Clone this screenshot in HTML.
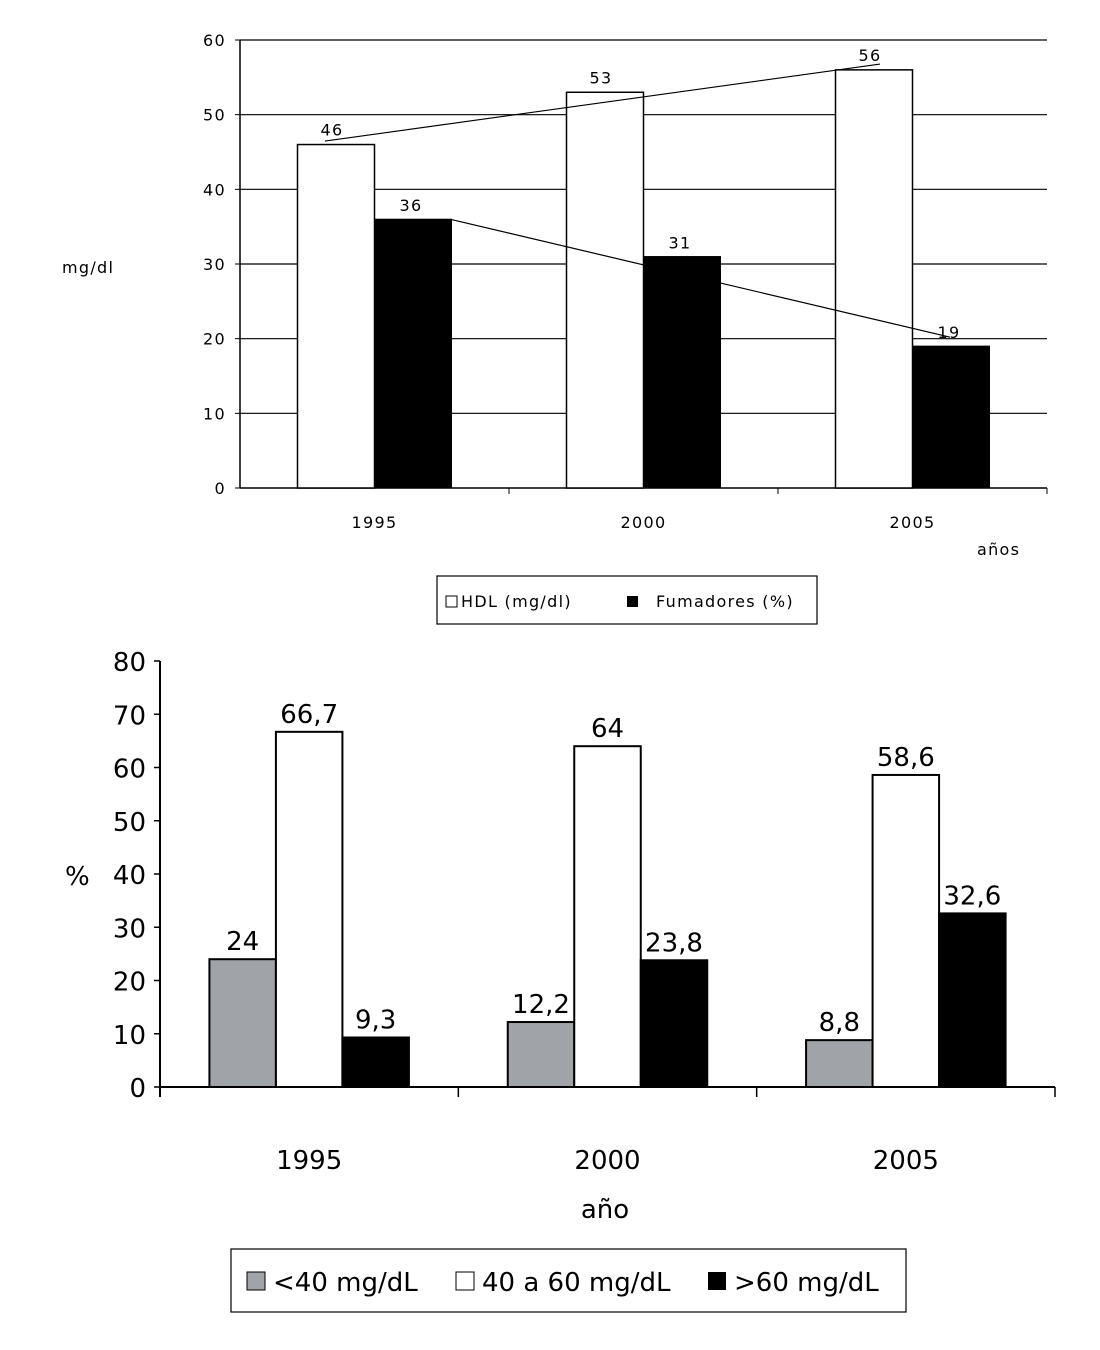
<!DOCTYPE html>
<html><head><meta charset="utf-8"><style>
body{margin:0;background:#fff;}
svg text{font-family:"DejaVu Sans","Liberation Sans",sans-serif;fill:#000;}
#top text{letter-spacing:1.3px;}
</style></head><body>
<svg width="1100" height="1345" viewBox="0 0 1100 1345" xmlns="http://www.w3.org/2000/svg">
<g id="top"></g>
<g id="bot"></g>
</svg>
<script>
const NS="http://www.w3.org/2000/svg";
const topYears=["1995","2000","2005"];
const hdlValues=[46,53,56];
const smokerValues=[36,31,19];
const topTicks=[0,10,20,30,40,50,60];
const botYears=["1995","2000","2005"];
const lowValues=[24,12.2,8.8];
const midValues=[66.7,64,58.6];
const highValues=[9.3,23.8,32.6];
const botTicks=[0,10,20,30,40,50,60,70,80];

function mk(parent,tag,attrs,text){const e=document.createElementNS(NS,tag);for(const k in attrs)e.setAttribute(k,attrs[k]);if(text!==undefined)e.textContent=text;parent.appendChild(e);return e;}

// Top chart
const T=document.getElementById('top');
const tx0=240,tx1=1047,ty0=488,ty1=40,tmax=60;
const ty=v=>ty0-(v/tmax)*(ty0-ty1);
const tcw=(tx1-tx0)/topYears.length;
const tbw=77;
topTicks.forEach(t=>{
  if(t>0){const g=mk(T,'line',{x1:tx0,x2:tx1,y1:ty(t),y2:ty(t),stroke:'#000','stroke-width':1.2});
  
  }
  const l=mk(T,'text',{x:tx0-14,y:ty(t)+6,'text-anchor':'end','font-size':16},t);
  
  
  mk(T,'line',{x1:tx0-5,x2:tx0,y1:ty(t),y2:ty(t),stroke:'#000'});
});
mk(T,'line',{x1:tx0,x2:tx0,y1:ty1,y2:ty0,stroke:'#000','stroke-width':1.5});
mk(T,'line',{x1:tx0,x2:tx1,y1:ty0,y2:ty0,stroke:'#000','stroke-width':1.5});
const hx=[],sx=[];
topYears.forEach((y,i)=>{
  const c=tx0+tcw*(i+0.5);
  mk(T,'line',{x1:tx0+tcw*(i+1),x2:tx0+tcw*(i+1),y1:ty0,y2:ty0+6,stroke:'#000'});
  const yl=mk(T,'text',{x:c,y:528,'text-anchor':'middle','font-size':16},y);
  
  
  const b1=mk(T,'rect',{x:c-tbw,y:ty(hdlValues[i]),width:tbw,height:ty0-ty(hdlValues[i]),fill:'#fff',stroke:'#000','stroke-width':1.5});
  
  
  const b2=mk(T,'rect',{x:c,y:ty(smokerValues[i]),width:tbw,height:ty0-ty(smokerValues[i]),fill:'#000',stroke:'#000'});
  
  
  mk(T,'text',{x:c-tbw/2-4,y:ty(hdlValues[i])-9,'text-anchor':'middle','font-size':16},hdlValues[i]);
  mk(T,'text',{x:c+tbw/2-2,y:ty(smokerValues[i])-8,'text-anchor':'middle','font-size':16},smokerValues[i]);
  hx.push(c-tbw/2);sx.push(c+tbw/2);
});
function trend(xs,vs,xa,xb){const n=xs.length;const mx=xs.reduce((a,b)=>a+b)/n,mv=vs.reduce((a,b)=>a+b)/n;let num=0,den=0;xs.forEach((x,i)=>{num+=(x-mx)*(vs[i]-mv);den+=(x-mx)**2;});const s=num/den;const f=x=>mv+s*(x-mx);const l=mk(T,'line',{x1:xa,y1:ty(f(xa)),x2:xb,y2:ty(f(xb)),stroke:'#000','stroke-width':1.2});

}
trend(hx,hdlValues,325,880);
trend(sx,smokerValues,452,950);
mk(T,'text',{x:62,y:273,'font-size':16},'mg/dl');
mk(T,'text',{x:977,y:555,'font-size':16},'años');
const lg=mk(T,'rect',{x:437,y:576,width:380,height:48,fill:'#fff',stroke:'#000','stroke-width':1.2});


mk(T,'rect',{x:446,y:596,width:11,height:11,fill:'#fff',stroke:'#000'});
mk(T,'text',{x:461,y:607,'font-size':16},'HDL (mg/dl)');
mk(T,'rect',{x:627,y:596,width:11,height:11,fill:'#000'});
mk(T,'text',{x:656,y:607,'font-size':16},'Fumadores (%)');

// Bottom chart
const B=document.getElementById('bot');
const bx0=160,bx1=1055,by0=1087,by1=661,bmax=80;
const by=v=>by0-(v/bmax)*(by0-by1);
const bcw=(bx1-bx0)/botYears.length;
const bbw=66.5;
botTicks.forEach(t=>{
  const l=mk(B,'text',{x:bx0-14,y:by(t)+10,'text-anchor':'end','font-size':26},t);
  
  
  mk(B,'line',{x1:bx0-6,x2:bx0,y1:by(t),y2:by(t),stroke:'#000','stroke-width':1.5});
});
mk(B,'line',{x1:bx0,x2:bx0,y1:by1,y2:by0+10,stroke:'#000','stroke-width':2});
mk(B,'line',{x1:bx0,x2:bx1,y1:by0,y2:by0,stroke:'#000','stroke-width':2});
const fmt=v=>String(v).replace('.',',');
botYears.forEach((y,i)=>{
  const c=bx0+bcw*(i+0.5);
  mk(B,'line',{x1:bx0+bcw*(i+1),x2:bx0+bcw*(i+1),y1:by0,y2:by0+10,stroke:'#000','stroke-width':1.5});
  const yl=mk(B,'text',{x:c,y:1169,'text-anchor':'middle','font-size':26},y);
  
  
  [[lowValues,'#a0a3a8','low'],[midValues,'#fff','mid'],[highValues,'#000','high']].forEach(([arr,col,nm],k)=>{
    const x=c-1.5*bbw+k*bbw;
    const r=mk(B,'rect',{x:x,y:by(arr[i]),width:bbw,height:by0-by(arr[i]),fill:col,stroke:'#000','stroke-width':2});
    
    
    mk(B,'text',{x:x+bbw/2,y:by(arr[i])-9,'text-anchor':'middle','font-size':26},fmt(arr[i]));
  });
});
mk(B,'text',{x:65,y:885,'font-size':26},'%');
mk(B,'text',{x:605,y:1218,'text-anchor':'middle','font-size':26},'año');
const lg2=mk(B,'rect',{x:231,y:1249,width:675,height:63,fill:'#fff',stroke:'#000','stroke-width':1.2});


mk(B,'rect',{x:247,y:1272,width:18,height:18,fill:'#a0a3a8',stroke:'#000'});
mk(B,'text',{x:273,y:1291,'font-size':26},'<40 mg/dL');
mk(B,'rect',{x:456,y:1272,width:18,height:18,fill:'#fff',stroke:'#000'});
mk(B,'text',{x:482,y:1291,'font-size':26},'40 a 60 mg/dL');
mk(B,'rect',{x:708,y:1272,width:18,height:18,fill:'#000'});
mk(B,'text',{x:734,y:1291,'font-size':26},'>60 mg/dL');
</script>
</body></html>
